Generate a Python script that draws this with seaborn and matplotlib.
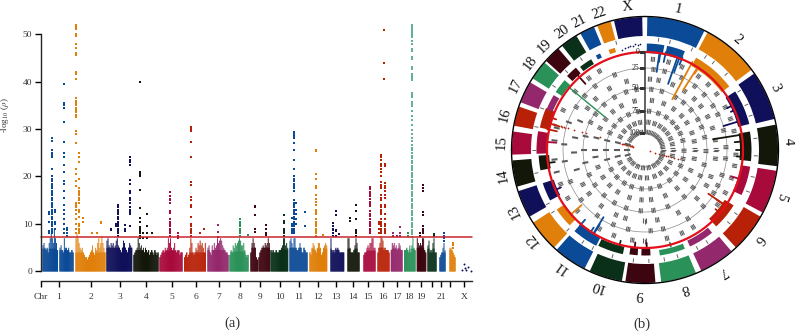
import pandas as pd
import numpy as np
import matplotlib
matplotlib.use("Agg")
import matplotlib.pyplot as plt
import seaborn as sns

# chromosome colours, cycled
blue, orange, navy, olive, crimson, red, purple, green, maroon, dkgreen = (
    "#0b4a96", "#e07f0a", "#10105a", "#12170a", "#a80a3c",
    "#b82108", "#94286c", "#2a9158", "#3d0510", "#0a3019")

# ---- panel (a): manhattan ----
block_color = [blue, blue, orange, navy, olive, crimson, red, purple, green, maroon, maroon,
               dkgreen, blue, orange, navy, olive, crimson, red, purple, green, maroon,
               dkgreen, blue, orange]
block_start = [43, 60, 76, 107, 134, 160, 184.7, 208, 230, 251, 259, 271, 290, 310, 331, 348,
               364, 378, 391.3, 404.7, 417.3, 428, 440, 450]
block_end = [57.5, 73, 105, 131.7, 158, 182, 205.3, 228, 248, 257.3, 269.3, 287.7, 307, 326.7,
             343.7, 359, 375, 389, 402, 415, 425.7, 436, 445, 455]
# level of the solid part of each block
block_base = [4.8, 4.5, 4, 5, 4.5, 4.4, 4, 4.5, 4.2, 5, 5, 4.6, 5, 4.8, 4.8, 4.8, 4.4, 5, 4.8, 4.8, 5, 4.8, 4, 4.6]
block_heights = [
    [5.5, 6, 5, 4.5, 5, 4, 6, 7, 8, 7, 6, 9, 7, 6, 4.5],
    [5, 5.5, 4.5, 4, 7, 5, 5, 4.5, 5, 4, 4, 4.5, 4],
    [7, 8, 7, 6, 5, 4.5, 5, 4, 3.5, 3, 3, 2.5, 3, 3.5, 4, 4.5, 5.5, 4, 3.5, 5, 4.5, 6, 7, 5, 6, 7.5, 6, 5, 4],
    [6.5, 7, 5.5, 5, 6, 5.5, 6, 5, 5.5, 6.5, 7, 5.5, 5, 4.5, 4, 5, 6.5, 6, 5, 4.5, 4, 5, 6, 5.5, 5],
    [3.5, 4, 4.5, 5, 7, 6, 5, 5.5, 4.5, 5, 4, 5, 4.5, 4, 4.5, 3.5, 4, 4.5, 4, 3.5, 4.5, 4, 3.5, 4],
    [3, 3.5, 4, 4.5, 4, 5, 4.5, 5, 7, 6, 7, 5, 4.5, 5, 6, 4.5, 4, 4.5, 4.5, 3.5, 4, 4],
    [3, 3.5, 4, 3, 3.5, 5, 7, 6, 4, 3.5, 4, 5, 4.5, 6, 5.5, 6.5, 5.5, 6, 5, 4, 6],
    [5, 5.5, 4, 3.5, 5.5, 4.5, 6, 5, 5.5, 7, 6, 6.5, 7, 6.5, 5.5, 5, 4.5, 4, 4, 3.5],
    [3.5, 4.5, 4, 5.5, 5, 6, 5.5, 6, 6.5, 7, 6.5, 5.5, 5.5, 6, 4.5, 3.5, 3, 3.5],
    [4, 6, 7, 6, 5, 3, 2.5],
    [3, 4, 4.5, 5, 5.5, 5, 6, 5.5, 6, 7, 6],
    [4.5, 4, 4.5, 4, 4, 4.5, 4, 4, 4.5, 4.5, 5, 5.5, 7, 7, 5.5, 6, 5],
    [6.5, 7, 6, 5, 7, 7, 5, 4.5, 4.5, 5, 6, 5, 4, 4, 5, 4.5, 4, 4],
    [4, 3.5, 5, 6, 5.5, 4.5, 4, 5, 6, 6, 5, 3.5, 4, 5, 5.5, 6, 5.5],
    [7, 4.5, 4, 4.5, 4, 5, 4.5, 5, 4.5, 4, 4, 4, 4, 4],
    [7, 7, 5, 4, 4, 4, 4.5, 5.5, 7, 6, 4, 4],
    [3.5, 4, 4, 5, 5.5, 5, 6, 6, 7, 7, 5, 5],
    [4, 5, 6, 7.5, 7, 6.5, 4.5, 5, 4.5, 4.5, 4.5, 4],
    [4.5, 6, 5.5, 6, 5, 5.5, 4.5, 5, 6, 5.5, 4.5, 4.5],
    [4.5, 4.5, 5, 4.5, 4, 5.5, 4, 5.5, 7, 5, 4.5],
    [7, 6, 5.5, 6, 5.5, 7, 7, 4.5, 4],
    [5.5, 6.5, 4, 4.5, 4, 6, 7, 4, 4],
    [3, 3.5, 4, 5, 6, 4.5],
    [5, 5, 4.5, 4, 3.5, 3],
]

# columns of hits above the threshold
hit_x = [51.7, 49, 54.5, 64.3, 67, 76.3, 79.3, 83.3, 92, 97, 100.7,
         118, 111, 115.5, 124.7, 130, 140, 146.7, 143, 152, 169.7, 178.3,
         191, 199.7, 204, 217.7, 239.7, 247.7, 255, 266, 284,
         294, 292, 296, 304.5, 316, 323, 333, 336, 339, 349.7, 356,
         370.3, 384, 381, 384.5, 378.5, 393, 397, 400, 407.5, 412,
         423.3, 420, 433.7, 443.7, 453]
hit_color = [blue, blue, blue, blue, blue, orange, orange, orange, orange, orange, orange,
             navy, navy, navy, navy, navy, olive, olive, olive, olive, crimson, crimson,
             red, red, red, purple, green, green, maroon, maroon, dkgreen,
             blue, blue, blue, blue, orange, orange, navy, navy, navy, olive, olive,
             crimson, red, red, red, red, purple, purple, purple, green, "#62b391",
             maroon, maroon, dkgreen, blue, orange]
hit_vals = [
    [28, 27.5, 25.5, 25, 24.5, 24, 21.5, 20, 19.5, 19, 18.5, 18, 17.5, 17, 16.5, 16, 15.5, 15, 14.5, 14, 13.5, 13, 12.5, 12, 11.5, 11, 10.5, 10, 9.5, 9, 8.5, 8],
    [12.5, 12, 10.5, 8.5, 8],
    [13, 12.5, 10.5, 10, 9],
    [39.5, 35.5, 35, 34.5, 31.5, 27.2, 25, 24, 22.5, 21, 19, 18.5, 17, 15.5, 14, 13, 12, 11, 10, 9, 8],
    [9.2, 8.8, 8, 7.5],
    [52, 51.5, 51, 50, 49.5, 48, 47, 46, 45.5, 42, 41.5, 40.5, 36.5, 36, 35.5, 35, 34.5, 34, 33.5, 33, 32.5, 29.5, 29, 27, 21.5, 20.5, 19, 18, 14.5, 14, 13.5, 13, 12, 11, 10, 9, 8],
    [25, 24, 23, 19.5, 17.5, 17, 16.5, 16, 15.5, 15, 14.5, 13, 12.5, 11.5, 10, 9.5, 9, 8.5, 8],
    [11.3, 10.5], [8], [8.2], [10.5, 10.2],
    [14, 13.5, 13, 12.5, 12, 11.5, 11, 10.5, 10, 9.5, 9, 8.5, 8, 7.5],
    [9, 8.7], [10, 9.5], [9.8, 9, 8.5],
    [24, 23.5, 23, 22.5, 19.2, 18.5, 17, 16.5, 15.5, 15, 14.5, 13.5, 13, 12.5, 12, 9.5],
    [40, 21, 20.5, 20, 17.2, 13.3, 11.2, 10.5, 9.3, 9, 8.5, 8, 7.5, 7],
    [12, 9.5, 8, 7], [8.2, 7], [8.2],
    [16.7, 15.8, 15.3, 15, 14.5, 12.8, 12.3, 11, 10.5, 10, 9.5, 9, 8.5, 8, 7.5],
    [8, 7.5, 7],
    [30.5, 30, 29.5, 27.2, 24, 18.8, 18.3, 15.7, 15, 14, 13.5, 11.5, 10, 9.5, 9, 8.5, 8, 7.5],
    [8.2], [9],
    [9.8, 8.3, 7.2],
    [11, 10.5, 10, 9.5, 9, 8.5, 8, 7.5],
    [7.6],
    [13.8, 13.5, 11.9, 8.9, 8.3],
    [9.7, 9, 8.2, 7.7],
    [11.9, 10.7, 10.3, 9, 8.5, 8, 7.5],
    [29.3, 29, 28.5, 28, 27, 25.5, 23.5, 21.5, 20.2, 20, 19.5, 19, 18.5, 18, 17.5, 17, 15, 14.5, 14, 13.5, 13, 12.5, 12, 11.5, 11, 10.5, 10, 9.5, 9, 8.5, 8],
    [11.3, 10, 9.5, 9, 8.5, 8],
    [14.5, 13, 12, 11, 10],
    [12.5, 9.5],
    [25.5, 25.3, 20.5, 19.5, 18, 17.5, 16, 15.2, 14.7, 14, 13, 12.5, 12, 11, 10.5, 10, 9.5, 9, 8.5, 8, 7.5],
    [7.7],
    [10.2, 9.5, 9, 8.7, 8, 7.5],
    [12.7, 11.9, 8.8, 8.5, 7.5],
    [7.8],
    [11.2, 10.6],
    [14.1, 12.8, 11.1, 8.8, 8.5, 8, 7.5],
    [17.7, 17.3, 16.8, 16.3, 15.8, 15.3, 14.7, 14.2, 13.7, 12.7, 12.2, 11.7, 11, 10.5, 10, 9.5, 9, 8.5, 8],
    [50.8, 44, 40.6],
    [24.5, 24, 23.5, 22.7, 22.2, 21.5, 21, 20, 18.8, 18.3, 18, 17.5, 16, 15.5, 15, 14, 13.5, 13, 12.5, 12, 11, 10.5, 10, 9.5, 9, 8.5, 8],
    [22.7, 22.3, 18.7, 18, 17.5, 17, 16, 15.5, 14, 13.5, 12, 11, 10, 9.5, 9, 8.5, 8],
    [10.5, 10, 9, 8],
    [8, 7.5], [7.5], [9.3, 8.2, 7.5], [8, 7.5],
    [51.8, 51.4, 51, 50.6, 50.2, 49.8, 49.3, 48.6, 48, 46.8, 46.4, 45.2, 44.8, 43, 42.6, 41.6, 41.2, 40.8, 40.4, 37.6, 37.2, 36.8, 35.2, 35.7, 34.8, 33.8, 32.8, 31.8, 30.8, 29.8, 29, 28, 27.4, 26.7, 26, 25.5, 24.9, 24.3, 23.8, 23.3, 22.8, 22.3, 21.8, 21.3, 20.8, 20.3, 19.8, 19.3, 18.8, 18.3, 17.8, 17.3, 16.8, 16.3, 15.8, 15.3, 14.8, 14.3, 13.8, 13.3, 12.8, 12.3, 11.8, 11.3, 10.8, 10.3, 9.8, 9.3, 8.8, 8.3, 7.8, 7.3],
    [18.2, 17.5, 17, 12.5, 11.8, 9.5, 9, 8.5, 8],
    [8, 7.5], [7.8, 7.5], [8, 7.5, 7, 6.5], [6, 5.5, 5],
]
x_hit_x = [461.5, 463.5, 464.5, 466, 468, 471]
x_hit_y = [0.3, 1.5, 0.7, 0.4, 0.9, 0.2]

threshold = 7.26
ytick_vals = [0, 10, 20, 30, 40, 50]
xtick_pos = [41, 58.7, 91, 120, 146, 171.7, 196, 218.7, 240, 260, 279.5, 298.7, 318, 336, 352.7,
             368, 383, 397, 409, 421, 431.7, 441, 450, 464]
xtick_lab = ["Chr", "1", "2", "3", "4", "5", "6", "7", "8", "9", "10", "11", "12", "13", "14",
             "15", "16", "17", "18", "19", "", "21", "", "X"]

# ---- panel (b): circular plot ----
chrom_names = ["1", "2", "3", "4", "5", "6", "7", "8", "9", "10", "11", "12", "13", "14", "15",
               "16", "17", "18", "19", "20", "21", "22", "X"]
chrom_colors = [blue, orange, navy, olive, crimson, red, purple, green, maroon, dkgreen,
                blue, orange, navy, olive, crimson, red, purple, green, maroon, dkgreen,
                blue, orange, navy]
ring_start = [1, 28, 55, 79, 99, 120, 139.5, 157.5, 175.5, 190, 207, 223, 240, 254, 268, 280.5,
              291, 302.5, 312, 321.5, 331, 339, 346.5]
ring_end = [26.5, 53, 76.5, 97, 118, 137, 155, 173, 188.5, 204.5, 221.5, 237, 252, 265.5, 278,
            289, 300.5, 311, 319.5, 329, 337.5, 345, 358.8]
label_angle = [13.4, 40, 64.3, 86.7, 109, 128, 147.7, 164, 182, 199, 215.8, 231.5, 245, 260,
               273, 284, 296.6, 307, 316, 325, 333, 341.6, 353]

track_start = [1, 12, 29, 57, 80, 99, 122, 141, 158, 177, 184, 192, 207, 225, 242, 259, 268, 282,
               292.5, 303, 313.5, 322, 332.5, 340]
track_end = [10.5, 22, 53, 76, 96, 115, 137, 155, 172, 182, 188.5, 206, 221, 236, 252, 267, 280,
             293, 301, 311, 320, 329.3, 335, 343.5]
track_color = [blue, blue, orange, navy, olive, crimson, red, purple, green, maroon, maroon, dkgreen,
               blue, orange, navy, olive, crimson, red, purple, green, maroon, dkgreen, blue, orange]
track_outer = [106.5, 106.5, 105.5, 107.5, 106.5, 106.5, 104.5, 106.5, 106.5, 105.5, 105.5, 106.5,
               107.5, 106.5, 107.5, 106.5, 108.5, 107.5, 106.5, 106.5, 107.5, 105.5, 106.5, 106.5]
track_inner = [97, 97, 96, 96, 95, 97, 94, 100, 101, 98, 98, 99, 98, 97, 96, 96, 98, 98,
               100, 99, 100, 100, 102, 102]

spike_angle = [8.5, 9, 12, 19.3, 20.5, 22, 28.3, 32.5, 33, 63, 66, 73, 81, 85, 90, 94, 107, 124.6,
               124.7, 130, 165, 179, 186, 195, 211.7, 211.4, 213.5, 220.7, 229, 246, 262.4,
               274.7, 285.5, 282, 289, 318]
spike_r = [79, 89, 90, 70, 83, 92, 57.6, 71, 91, 92, 94, 82, 69, 90, 91, 92, 90, 77,
           87, 92, 96, 93, 93, 94, 79, 87, 93, 92, 84, 92, 91,
           89, 90, 90, 94, 89]
spike_color = [blue, blue, blue, blue, blue, blue, orange, orange, orange, navy, navy, navy, olive,
               olive, olive, olive, crimson, red, red, red, green, maroon, maroon, dkgreen, blue,
               blue, blue, blue, orange, navy, olive, crimson, red, red, red, maroon]

line_angle = 309.5
line_r_top = 100
line_r_low = 52
# chr16 hit that overshoots the scale and wraps through the centre
wrap_angle = [285.7] * 29 + [105.7] * 10
wrap_r = [96, 95, 94, 93, 92, 90, 89, 87, 86, 84, 83, 80, 74, 65, 61, 47, 24, 23, 22, 21, 20, 19, 18, 17, 16, 15, 14, 13, 12,
          5, 10, 15, 18, 20, 22, 24, 27, 30, 34]

x_dot_angle = [347, 349, 350.5, 352, 353.5, 354.5, 356, 357.5]
x_dot_r = [103, 104, 104.5, 105, 105, 106, 105.5, 106]

grid_r = [98, 82, 62, 39, 17]
grid_lab = ["0", "25", "50", "75", "100"]

band_r = [111, 91, 81, 71, 61, 50, 39, 28, 18]
band_angles = [
    [7, 13, 25, 33, 38, 47, 58, 66, 72, 84, 93, 104, 112, 125, 131, 146, 152, 163, 170, 178, 186, 197, 208, 214, 224, 236, 241, 258, 270, 282, 292, 305, 315, 325, 345],
    [5, 15, 24, 36, 44, 52, 62, 70, 78, 93, 100, 108, 118, 127, 148, 156, 166, 180, 188, 200, 210, 228, 238, 248, 256, 264, 276, 284, 296, 310, 322, 330],
    [6, 14, 27, 38, 47, 57, 64, 76, 88, 96, 108, 116, 122, 134, 148, 167, 176, 192, 203, 216, 232, 247, 262, 274, 290, 302, 312, 322, 338],
    [4, 11, 23, 34, 44, 52, 62, 72, 82, 90, 97, 112, 120, 133, 152, 170, 180, 196, 204, 218, 232, 241, 254, 268, 280, 294, 306, 316, 330, 345],
    [6, 16, 30, 39, 49, 60, 68, 78, 91, 104, 115, 128, 140, 158, 172, 184, 198, 210, 222, 235, 246, 258, 270, 283, 297, 306, 318, 330, 342, 352],
    [8, 22, 35, 47, 57, 70, 80, 90, 100, 114, 126, 140, 156, 173, 184, 198, 213, 225, 237, 250, 262, 270, 284, 296, 308, 320, 332, 348],
    [6, 20, 33, 45, 55, 65, 76, 91, 103, 114, 127, 141, 158, 172, 185, 200, 212, 226, 240, 256, 270, 284, 296, 308, 321, 335, 350],
    [7, 20, 32, 43, 54, 66, 78, 90, 102, 116, 131, 146, 160, 176, 190, 202, 215, 229, 243, 257, 270, 285, 298, 312, 326, 338, 350],
    [8, 22, 36, 49, 62, 76, 90, 104, 118, 134, 150, 168, 186, 204, 222, 238, 254, 270, 288, 304, 318, 332, 348],
]

sns.set_style("white")
plt.rcParams["font.family"] = ["Liberation Serif", "DejaVu Serif"]
plt.rcParams["mathtext.fontset"] = "stix"

fig = plt.figure(figsize=(7.95, 3.32), dpi=100)

# left panel spans the whole figure so x reads directly
ax = fig.add_axes([0, 0, 1, 1])
ax.patch.set_alpha(0)

for i in range(len(block_start)):
    xs = np.linspace(block_start[i], block_end[i], len(block_heights[i]))
    step = xs[1] - xs[0]
    df = pd.DataFrame({"pos": xs, "h": block_heights[i]})
    sns.barplot(data=df, x="pos", y="h", native_scale=True, color=block_color[i], saturation=1,
                width=min(1.0, 0.95 / step), linewidth=0, errorbar=None, ax=ax)
    df["base"] = np.minimum(df["h"], block_base[i])
    sns.barplot(data=df, x="pos", y="base", native_scale=True, color=block_color[i], saturation=1,
                width=1.05, linewidth=0, errorbar=None, ax=ax)
# thin bars would otherwise snap to nothing on the pixel grid
for p in ax.patches:
    p.set_snap(False)

for i in range(len(hit_x)):
    df = pd.DataFrame({"pos": [hit_x[i]] * len(hit_vals[i]), "val": hit_vals[i]})
    sns.scatterplot(data=df, x="pos", y="val", color=hit_color[i], s=1.5, marker="s", linewidth=0,
                    ax=ax, legend=False)
sns.scatterplot(x=x_hit_x, y=x_hit_y, color=navy, s=2, marker="o", linewidth=0, ax=ax, legend=False)

ax.plot([40.7, 472], [threshold, threshold], color="#c9252f", lw=1.1)

ax.set_xlim(0, 795)
ax.set_ylim(-12.74, 57.16)
ax.set_xlabel("")
ax.set_ylabel("")
sns.despine(ax=ax)
ax.spines["left"].set_position(("data", 40.7))
ax.spines["left"].set_bounds(0, 50)
ax.spines["left"].set_linewidth(1)
ax.spines["bottom"].set_position(("data", -1.94))
ax.spines["bottom"].set_bounds(40.7, 472)
ax.spines["bottom"].set_linewidth(1)
ax.set_yticks(ytick_vals)
ax.set_xticks(xtick_pos)
ax.set_xticklabels(xtick_lab)
ax.tick_params(axis="y", length=4, width=1, labelsize=6.8, pad=2, color="black", left=True, labelcolor="#333333")
ax.tick_params(axis="x", length=4, width=1, labelsize=6.8, pad=4.5, color="black", bottom=True, labelcolor="#333333")
ax.text(5, 33, r"-log$_{10}$ ($\rho$)", rotation=90, fontsize=6.5, ha="center", va="center", color="#333333")
ax.text(232, -11, "(a)", fontsize=10.5, ha="center", va="center", color="#333333")
ax.text(642, -11.2, "(b)", fontsize=10.5, ha="center", va="center", color="#333333")

# right panel, centre at (645, 150) px
R = 135
pol = fig.add_axes([(645 - R) / 795, (332 - 150 - R) / 332, 2 * R / 795, 2 * R / 332], projection="polar")
pol.set_theta_zero_location("N")
pol.set_theta_direction(-1)
pol.set_rlim(0, R)
pol.axis("off")
pol.patch.set_alpha(0)

circle_t = np.radians(np.linspace(0, 360, 721))

for i in range(len(chrom_names)):
    t0, t1 = np.radians(ring_start[i]), np.radians(ring_end[i])
    pol.bar((t0 + t1) / 2, 19, width=t1 - t0, bottom=114, color=chrom_colors[i], linewidth=0)
    pol.text(np.radians(label_angle[i]), 144, chrom_names[i], fontsize=10.5, ha="center", va="center",
             rotation=-label_angle[i], rotation_mode="anchor", color="#111111", clip_on=False)
pol.plot(circle_t, np.full_like(circle_t, 133.5), color="black", lw=1)

for r in grid_r[1:]:
    pol.plot(circle_t, np.full_like(circle_t, r), color="#8a8a8a", lw=0.5)

# grey dashes: stripes of three on most of the circle, single bars on the left side
for r, angles in zip(band_r, band_angles):
    if r == 111:
        pol.vlines(np.radians(angles), r - 2, r + 2, color="#646464", lw=0.7)
        continue
    for a in angles:
        th = np.radians(a)
        if 250 < a < 295:
            pol.vlines(th, r - 3, r + 3, color="#5c5c5c", lw=1.5)
        else:
            d = 1.5 / r
            pol.vlines([th - d, th, th + d], r - 2.5, r + 2.5, color="#5c5c5c", lw=0.8)

for i in range(len(track_start)):
    t0, t1 = np.radians(track_start[i]), np.radians(track_end[i])
    pol.bar((t0 + t1) / 2, track_outer[i] - track_inner[i], width=t1 - t0, bottom=track_inner[i],
            color=track_color[i], linewidth=0)
for i in range(len(spike_angle)):
    pol.plot(np.radians([spike_angle[i], spike_angle[i]]), [100, spike_r[i]], color=spike_color[i], lw=1.3)
pol.plot(np.radians([line_angle, line_angle]), [line_r_top, line_r_low], color=green, lw=1)
pol.scatter(np.radians(wrap_angle), wrap_r, color=red, s=1.6, linewidth=0)
pol.scatter(np.radians(x_dot_angle), x_dot_r, color=navy, s=1.5, linewidth=0)

pol.plot(circle_t, np.full_like(circle_t, 98), color="#e3101c", lw=1.6)

pol.plot([0, 0], [17, 98], color="#555555", lw=1.3)
for r, lab in zip(grid_r, grid_lab):
    pol.plot(0, r, marker=0, markersize=4, markeredgewidth=0.8, color="#333333")
    pol.annotate(lab, xy=(0, r), xytext=(-4, 0), textcoords="offset points", fontsize=5.5,
                 ha="right", va="center", color="#222222")

fig.savefig("out.png", dpi=100)
